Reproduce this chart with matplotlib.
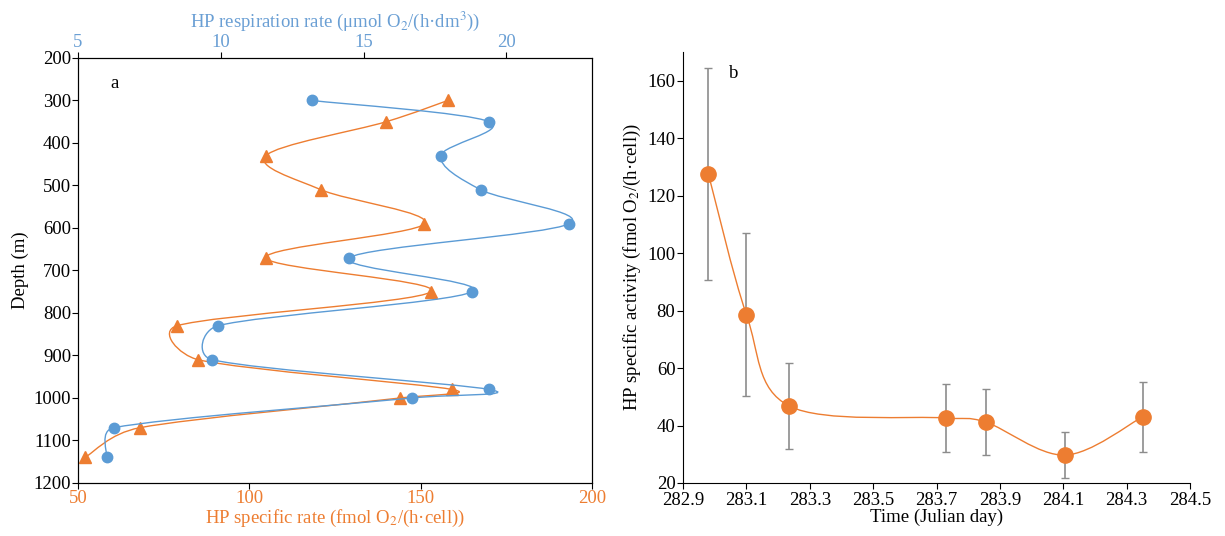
import numpy as np
import matplotlib
matplotlib.use("Agg")
import matplotlib.pyplot as plt
from matplotlib.path import Path
from matplotlib.patches import PathPatch

plt.rcParams["font.family"] = ["Liberation Serif", "DejaVu Serif"]
plt.rcParams["mathtext.fontset"] = "stix"

BLUE = "#5B9BD5"
BLUE_TXT = "#6A9FD4"
ORANGE = "#ED7D31"
GREY = "#8C8C8C"
FS = 13.5

# ── panel a: depth profiles ──────────────────────────────
depth = [300, 350, 430, 510, 590, 670, 750, 830, 910, 980, 1000, 1070, 1140]
resp_rate = [13.2, 19.4, 17.7, 19.1, 22.2, 14.5, 18.8, 9.9, 9.7, 19.4, 16.7, 6.25, 6.0]
spec_rate = [157.9, 139.9, 104.8, 120.9, 151.1, 104.8, 153.0, 78.9, 85.1, 159.2, 144.0, 68.0, 52.0]

# ── panel b: time series ────────────────────────────────
day = [282.98, 283.10, 283.235, 283.73, 283.855, 284.105, 284.35]
activity = [127.5, 78.6, 46.8, 42.6, 41.2, 29.7, 43.0]
activity_err = [37.0, 28.4, 14.9, 11.7, 11.6, 8.0, 12.2]


def smooth_path(ax, x, y):
    """Excel-like smoothed line: cubic Bezier built in screen space,
    tangent length capped at half the segment (keeps short hops tight)."""
    p = ax.transData.transform(np.column_stack([x, y]).astype(float))
    n = len(p)
    verts = [p[0]]
    codes = [Path.MOVETO]
    for i in range(n - 1):
        p0 = p[max(i - 1, 0)]
        p1, p2 = p[i], p[i + 1]
        p3 = p[min(i + 2, n - 1)]
        d12 = np.linalg.norm(p2 - p1)
        d02 = np.linalg.norm(p2 - p0)
        d13 = np.linalg.norm(p3 - p1)
        f1 = min(1 / 6, d12 / (2 * d02)) if d02 > 0 else 0
        f2 = min(1 / 6, d12 / (2 * d13)) if d13 > 0 else 0
        verts += [p1 + (p2 - p0) * f1, p2 - (p3 - p1) * f2, p2]
        codes += [Path.CURVE4] * 3
    verts = ax.transData.inverted().transform(np.array(verts))
    return Path(verts, codes)


fig = plt.figure(figsize=(12.25, 5.36), dpi=100)

# panel a
ax = fig.add_axes([0.0637, 0.0989, 0.4196, 0.7929])
ax.set_xlim(50, 200)
ax.set_ylim(1200, 200)
ax.set_xticks([50, 100, 150, 200])
ax.set_yticks(range(200, 1201, 100))
ax.tick_params(axis="x", colors=ORANGE, labelsize=FS, direction="out", length=4,
               width=0.8, pad=1)
ax.tick_params(axis="x", color="black")
ax.tick_params(axis="y", labelsize=FS, direction="out", length=4, width=0.8, pad=1)
ax.set_xlabel("HP specific rate (fmol O$_2$/(h·cell))", color=ORANGE, fontsize=FS,
              labelpad=1)
ax.set_ylabel("Depth (m)", fontsize=FS, labelpad=3)

axt = ax.twiny()
axt.set_xlim(5, 23)
axt.set_xticks([5, 10, 15, 20])
axt.tick_params(axis="x", colors=BLUE_TXT, labelsize=FS, direction="out", length=4,
                width=0.8, pad=1)
axt.tick_params(axis="x", color="black")
axt.set_xlabel("HP respiration rate (μmol O$_2$/(h·dm$^3$))", color=BLUE_TXT,
               fontsize=FS, labelpad=5)

ax.add_patch(PathPatch(smooth_path(ax, spec_rate, depth), fill=False, color=ORANGE,
                       lw=1.0, zorder=2))
ax.plot(spec_rate, depth, ls="none", marker="^", ms=8, color=ORANGE, zorder=3,
        clip_on=False)
axt.add_patch(PathPatch(smooth_path(axt, resp_rate, depth), fill=False, color=BLUE,
                        lw=1.0, zorder=2))
axt.plot(resp_rate, depth, ls="none", marker="o", ms=7.5, color=BLUE, zorder=3)
ax.text(0.072, 0.941, "a", transform=ax.transAxes, fontsize=FS, ha="center",
        va="center")

# panel b
bx = fig.add_axes([0.5576, 0.0989, 0.4139, 0.8041])
bx.set_xlim(282.9, 284.5)
bx.set_ylim(20, 170)
xt = np.round(np.arange(282.9, 284.51, 0.2), 1)
bx.set_xticks(xt)
bx.set_xticklabels([f"{t:.1f}" for t in xt])
bx.set_yticks(range(20, 161, 20))
for s in ["top", "right"]:
    bx.spines[s].set_visible(False)
bx.tick_params(axis="x", labelsize=FS, direction="out", length=4, width=0.8, pad=2.5)
bx.tick_params(axis="y", labelsize=FS, direction="out", length=4, width=0.8, pad=1.5)
bx.set_xlabel("Time (Julian day)", fontsize=FS, labelpad=0)
bx.set_ylabel("HP specific activity (fmol O$_2$/(h·cell))", fontsize=FS, labelpad=3)
bx.errorbar(day, activity, yerr=activity_err, ls="none", ecolor=GREY, elinewidth=1.2,
            capsize=3, capthick=1.0, zorder=1)
bx.add_patch(PathPatch(smooth_path(bx, day, activity), fill=False, color=ORANGE,
                       lw=1.0, zorder=2))
bx.plot(day, activity, ls="none", marker="o", ms=11, color=ORANGE, zorder=3)
bx.text(0.1, 0.951, "b", transform=bx.transAxes, fontsize=FS, ha="center",
        va="center")

fig.savefig("out.png", dpi=100)
